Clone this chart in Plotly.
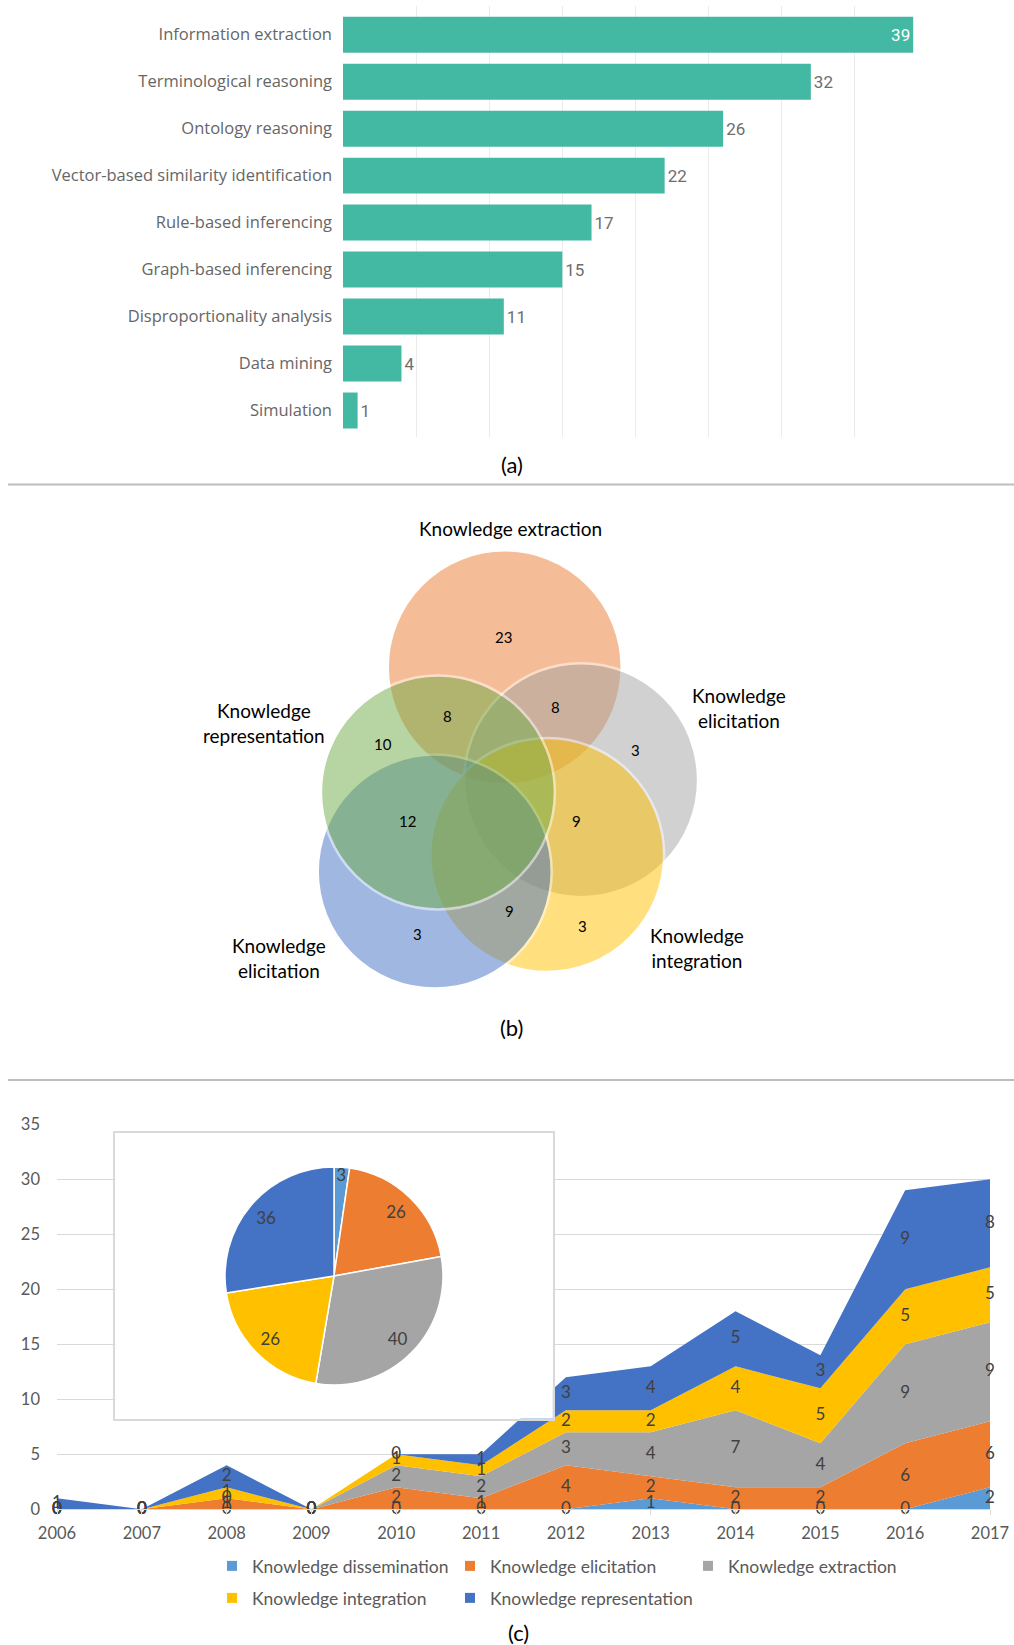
import numpy as np
import plotly.graph_objects as go

W, H = 1014, 1645

# ---------------- (a) bar chart data ----------------
methods = ["Information extraction", "Terminological reasoning", "Ontology reasoning",
           "Vector-based similarity identification", "Rule-based inferencing",
           "Graph-based inferencing", "Disproportionality analysis", "Data mining", "Simulation"]
method_counts = [39, 32, 26, 22, 17, 15, 11, 4, 1]

# ---------------- (b) Venn diagram data ----------------
venn_set_labels = ["Knowledge extraction", "Knowledge<br>elicitation", "Knowledge<br>integration",
                   "Knowledge<br>elicitation", "Knowledge<br>representation"]
venn_region_counts = [23, 8, 8, 10, 3, 12, 9, 9, 3, 3]

# ---------------- (c) area + pie data ----------------
years = list(range(2006, 2018))
series_names = ["Knowledge dissemination", "Knowledge elicitation", "Knowledge extraction",
                "Knowledge integration", "Knowledge representation"]
dissemination = [0, 0, 0, 0, 0, 0, 0, 1, 0, 0, 0, 2]
elicitation = [0, 0, 1, 0, 2, 1, 4, 2, 2, 2, 6, 6]
extraction = [0, 0, 0, 0, 2, 2, 3, 4, 7, 4, 9, 9]
integration = [0, 0, 1, 0, 1, 1, 2, 2, 4, 5, 5, 5]
representation = [1, 0, 2, 0, 0, 1, 3, 4, 5, 3, 9, 8]
y_ticks = [0, 5, 10, 15, 20, 25, 30, 35]

# ---------------- styling / layout geometry ----------------
series_colors = ["#5B9BD5", "#ED7D31", "#A5A5A5", "#FFC000", "#4472C4"]
BAR_COLOR = "#43B9A4"
CAL = "Lato"


def fx(px):
    return px / W


def fy(py):
    return 1 - py / H


fig = go.Figure()

# ======== (a) horizontal bar chart (x3/y3) ========
fig.add_trace(go.Bar(
    x=method_counts, y=methods, orientation="h", xaxis="x3", yaxis="y3",
    marker=dict(color=BAR_COLOR, line=dict(width=0)),
    text=method_counts,
    textposition=["inside"] + ["outside"] * (len(methods) - 1),
    insidetextanchor="end",
    insidetextfont=dict(color="white", family="Roboto", size=17),
    outsidetextfont=dict(color="#6E6E6E", family="Roboto", size=17),
    cliponaxis=False, showlegend=False, hoverinfo="skip",
))

# ======== (c) stacked area chart (x/y) ========
stack = np.array([dissemination, elicitation, extraction, integration, representation], dtype=float)
cum = np.cumsum(stack, axis=0)
mid = cum - stack / 2
for name, vals, col in zip(series_names, stack, series_colors):
    fig.add_trace(go.Scatter(
        x=years, y=vals, stackgroup="one", mode="lines", line=dict(width=0),
        fillcolor=col, name=name, showlegend=False, hoverinfo="skip",
    ))
for vals, m in zip(stack, mid):
    fig.add_trace(go.Scatter(
        x=years, y=m, mode="text", text=[str(int(v)) for v in vals],
        textposition="middle center", textfont=dict(family=CAL, size=17, color="#404040"),
        cliponaxis=False, showlegend=False, hoverinfo="skip",
    ))
# legend entries (square markers)
for i, (name, col) in enumerate(zip(series_names, series_colors)):
    fig.add_trace(go.Scatter(
        x=[None], y=[None], mode="markers", name=name,
        marker=dict(symbol="square", size=10, color=col),
        legend="legend" if i < 3 else "legend2",
        legendwidth=193 if i < 4 else 240,
    ))

# inset box subplot (x2/y2) covering the area chart
fig.add_trace(go.Scatter(x=[], y=[], xaxis="x2", yaxis="y2", showlegend=False, hoverinfo="skip"))

# ======== pie inset ========
pie_totals = stack.sum(axis=1).astype(int).tolist()
pie_domain = dict(x=[fx(225), fx(443)], y=[fy(1385), fy(1167)])
# coloured pie
fig.add_trace(go.Pie(
    values=pie_totals, labels=series_names, sort=False, direction="clockwise", rotation=0,
    marker=dict(colors=series_colors, line=dict(color="white", width=1.5)),
    textinfo="none", domain=pie_domain, showlegend=False, hoverinfo="skip",
))
# transparent ring on top carrying the value labels (places them near the rim)
fig.add_trace(go.Pie(
    values=pie_totals, labels=series_names, sort=False, direction="clockwise", rotation=0,
    hole=0.64,
    marker=dict(colors=["rgba(0,0,0,0)"] * len(pie_totals), line=dict(width=0)),
    text=[str(v) for v in pie_totals], textinfo="text", textposition="inside",
    insidetextorientation="horizontal",
    textfont=dict(family=CAL, size=17, color="#404040"),
    domain=pie_domain, showlegend=False, hoverinfo="skip",
))

# ======== (b) Venn diagram: shapes ========
# geometry (pixel centres) in drawing order: extraction, elicitation(R), integration, elicitation(L), representation
venn_geom = [(504.7, 667.3), (581.1, 780.2), (547.2, 855.0), (434.7, 871.6), (437.9, 792.5)]
venn_colors = ["#ED7D31", "#A5A5A5", "#FFC000", "#4472C4", "#70AD47"]
R = 117
shapes = []
for (cx, cy), col in zip(venn_geom, venn_colors):
    shapes.append(dict(type="circle", xref="paper", yref="paper",
                       x0=fx(cx - R), x1=fx(cx + R), y0=fy(cy + R), y1=fy(cy - R),
                       fillcolor=col, opacity=0.5, line=dict(color="white", width=2.5),
                       layer="above"))
# separator lines
for yy in (484.5, 1080):
    shapes.append(dict(type="line", xref="paper", yref="paper", x0=fx(8), x1=1,
                       y0=fy(yy), y1=fy(yy), line=dict(color="#BDBDBD", width=2)))

annotations = []
region_pos = [(503.5, 637), (447.5, 716.4), (555.9, 706.8), (383.2, 744.3), (635.3, 750.4),
              (407.1, 821), (576, 821), (509.5, 911.4), (582.5, 925.7), (417.7, 933.6)]
for (px, py), v in zip(region_pos, venn_region_counts):
    annotations.append(dict(x=fx(px), y=fy(py), xref="paper", yref="paper", text=str(v),
                            xanchor="center", yanchor="middle",
                            showarrow=False, font=dict(family=CAL, size=15, color="black")))
label_pos = [(510.4, 528.2), (738.8, 708.0), (697.0, 947.8), (279.2, 957.6), (263.6, 723.0)]
for (px, py), t in zip(label_pos, venn_set_labels):
    annotations.append(dict(x=fx(px), y=fy(py), xref="paper", yref="paper", text=t,
                            xanchor="center", yanchor="middle",
                            showarrow=False, align="center",
                            font=dict(family=CAL, size=19, color="black")))
# panel captions
for t, px, py in (("(a)", 512, 464.5), ("(b)", 511.7, 1027.6), ("(c)", 518, 1632)):
    annotations.append(dict(x=fx(px), y=fy(py), xref="paper", yref="paper", text=t,
                            xanchor="center", yanchor="middle",
                            showarrow=False, font=dict(family=CAL, size=22, color="black")))

legend_common = dict(orientation="h", xanchor="left", yanchor="middle", traceorder="normal",
                     entrywidth=193, entrywidthmode="pixels", itemwidth=30,
                     font=dict(family=CAL, size=17.5, color="#595959"),
                     bgcolor="rgba(0,0,0,0)", borderwidth=0)

fig.update_layout(
    template="none",
    width=W, height=H,
    margin=dict(l=0, r=0, t=0, b=0, pad=0),
    paper_bgcolor="white", plot_bgcolor="white",
    font=dict(family=CAL, color="#404040"),
    uniformtext=dict(minsize=16, mode="show"),
    bargap=0.234,
    shapes=shapes, annotations=annotations,
    legend=dict(x=fx(212), y=fy(1566), **legend_common),
    legend2=dict(x=fx(212), y=fy(1598), **legend_common),
    # area chart axes
    xaxis=dict(domain=[fx(57), fx(990)], range=[2006, 2017], tickvals=years,
               showgrid=False, zeroline=False, showline=True, linecolor="#D9D9D9", linewidth=1,
               ticks="outside", ticklen=5, tickcolor="#D9D9D9", ticklabelstandoff=4,
               tickfont=dict(family=CAL, size=16.5, color="#595959"), automargin=False,
               fixedrange=True),
    yaxis=dict(domain=[fy(1509.3), fy(1124.3)], range=[0, 35], tickvals=y_ticks,
               showgrid=True, gridcolor="#D9D9D9", gridwidth=1, zeroline=False, showline=False,
               ticks="", ticklabelstandoff=16,
               tickfont=dict(family=CAL, size=16.5, color="#595959"), automargin=False,
               fixedrange=True),
    # inset box
    xaxis2=dict(domain=[fx(115.4), fx(552.9)], range=[0, 1], anchor="y2",
                showgrid=False, zeroline=False, showticklabels=False, ticks="",
                showline=True, mirror=True, linecolor="#D9D9D9", linewidth=1.5,
                automargin=False, fixedrange=True),
    yaxis2=dict(domain=[fy(1418.7), fy(1133.3)], range=[0, 1], anchor="x2",
                showgrid=False, zeroline=False, showticklabels=False, ticks="",
                showline=True, mirror=True, linecolor="#D9D9D9", linewidth=1.5,
                automargin=False, fixedrange=True),
    # bar chart axes
    xaxis3=dict(domain=[fx(343), fx(343 + 39.5 * 14.62)], range=[0, 39.5], anchor="y3",
                tick0=0, dtick=5, showgrid=True, gridcolor="#EBEBEB", gridwidth=1,
                zeroline=False, showticklabels=False, ticks="", showline=False,
                automargin=False, fixedrange=True),
    yaxis3=dict(domain=[fy(437), fy(6)], range=[8.564, -0.611], anchor="x3",
                type="category", showgrid=False, zeroline=False, showline=False, ticks="",
                ticklabelstandoff=10,
                tickfont=dict(family="Open Sans", size=16.5, color="#666666"),
                automargin=False, fixedrange=True),
)

fig.write_html("out.html", config={"displayModeBar": False},
               post_script="document.body.style.margin='0px';")
